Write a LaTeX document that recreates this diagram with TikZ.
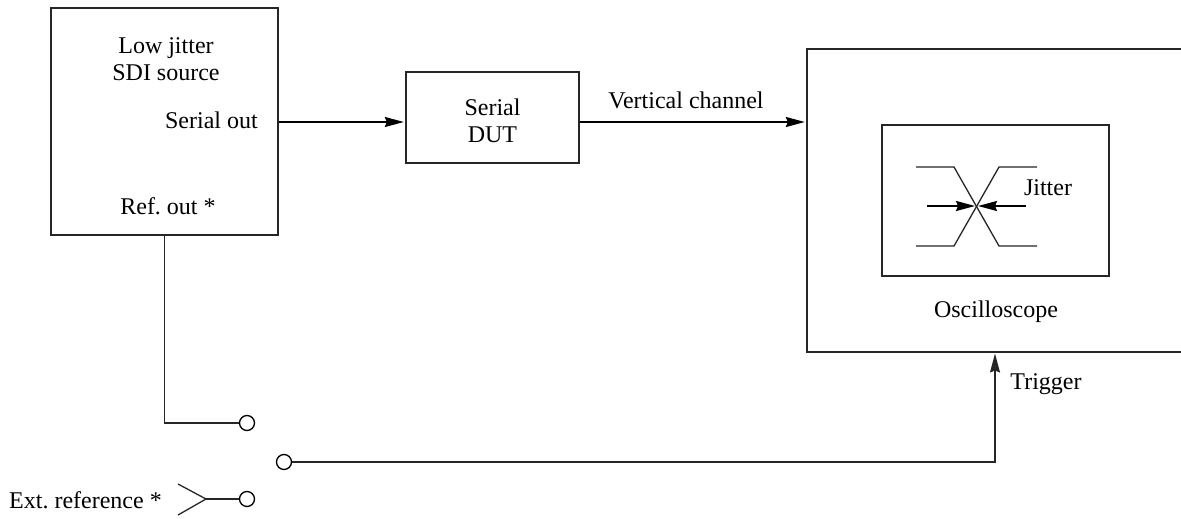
\documentclass[tikz,border=0pt]{standalone}
\usepackage{fontspec}
\setmainfont{Liberation Serif}
\usetikzlibrary{arrows.meta}
\frenchspacing
\tikzset{
  blockbox/.style={draw=black!85, line width=1.3pt, fill=white, inner sep=0pt},
  label/.style={font=\fontsize{24}{27}\selectfont, align=center, inner sep=0pt},
  term/.style={circle, draw=black, line width=1.3pt, fill=white, minimum size=15pt, inner sep=0pt},
  wire/.style={line width=1.3pt, black!85},
  heavy/.style={line width=1.8pt, black},
  tip/.style={-{Stealth[length=19pt, width=10pt, inset=2pt]}, shorten >=1.5pt}
}
\begin{document}
\begin{tikzpicture}[x=1pt, y=-1pt]
\useasboundingbox (0,0) rectangle (1181,519);
% Blocks
\node[blockbox, minimum width=227pt, minimum height=227pt] (source) at (164.5,121.5) {};
\node[blockbox, minimum width=173pt, minimum height=91pt] (dut) at (492.5,117.5) {};
\node[blockbox, minimum width=380pt, minimum height=303pt] (scope) at (997,200.5) {};
\node[blockbox, minimum width=227pt, minimum height=151pt] (screen) at (995.5,200.5) {};
% Labels
\node[label] (sourcetext) at (166,59.5) {Low jitter\\SDI source};
\node[label, anchor=east] (serialout) at (258,120) {Serial out};
\node[label] (refout) at (168,206) {Ref. out *};
\node[label] (duttext) at (492.5,120.5) {Serial\\DUT};
\node[label] (vertical) at (686,100) {Vertical channel};
\node[label] (jitter) at (1048,188) {Jitter};
\node[label] (scopetext) at (996,312) {Oscilloscope};
\node[label] (trigger) at (1046,384) {Trigger};
\node[label, anchor=west] (extref) at (9,500) {Ext. reference *};
% Terminals
\node[term] (termref) at (247,423) {};
\node[term] (termout) at (284,462) {};
\node[term] (termext) at (247,499) {};
% Connector ends
\coordinate (serialA) at (source.east |- 0,122);
\coordinate (serialB) at (dut.west |- 0,122);
\coordinate (vertA) at (dut.east |- 0,122);
\coordinate (vertB) at (scope.west |- 0,122);
\coordinate (refA) at (source.south);
\coordinate (trigA) at (995,352);
\coordinate (forkTip) at (206,499);
\coordinate (forkA) at (178,484);
\coordinate (forkB) at (178,515);
% Connectors
\draw[heavy, tip] (serialA) -- (serialB);
\draw[heavy, tip] (vertA) -- (vertB);
\draw[wire] (refA) |- (termref);
\draw[wire, tip] (termout) -| (trigA);
\draw[wire] (forkA) -- (forkTip) -- (forkB);
\draw[wire] (forkTip) -- (termext);
% Eye pattern
\coordinate (cross) at (976.5,206);
\draw[wire] (916,167) -- (954,167) -- (999,246) -- (1037,246);
\draw[wire] (916,246) -- (954,246) -- (999,167) -- (1037,167);
\draw[heavy, tip] (927,206) -- (cross);
\draw[heavy, tip] (1026,206) -- (cross);
\end{tikzpicture}
\end{document}
